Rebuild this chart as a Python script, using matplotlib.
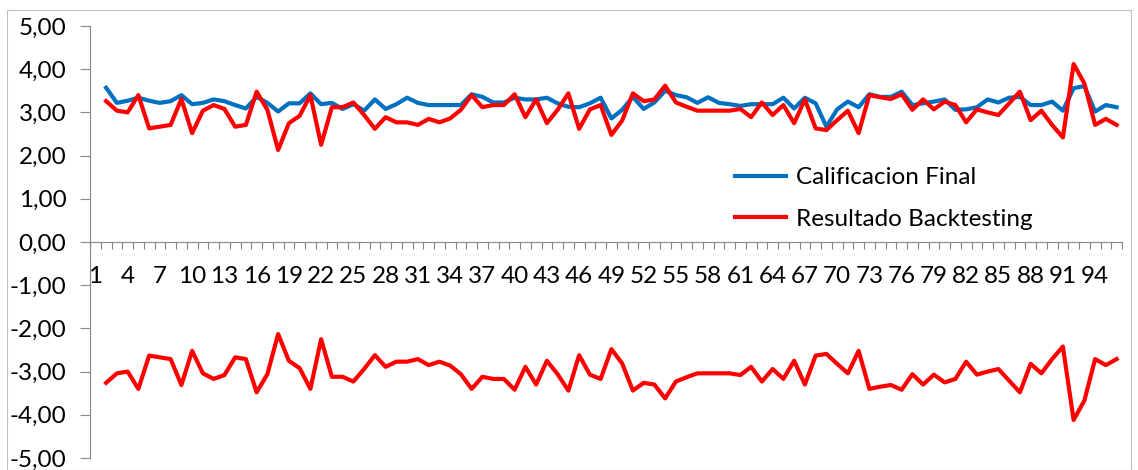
import numpy as np
import matplotlib
matplotlib.use("Agg")
import matplotlib.pyplot as plt
from matplotlib.ticker import FixedLocator, FuncFormatter
from matplotlib.patches import Rectangle

plt.rcParams['font.family'] = ['Lato', 'DejaVu Sans']

# Categories 1..96 (category 1 has no value)
categories = list(range(1, 97))

calificacion_final = [None,
    3.57, 3.22, 3.27, 3.34, 3.27, 3.22, 3.26, 3.40, 3.19, 3.22, 3.30, 3.26, 3.17, 3.09, 3.36, 3.22, 3.02, 3.21, 3.21,
    3.44, 3.19, 3.22, 3.08, 3.19, 3.04, 3.30, 3.08, 3.19, 3.34, 3.22, 3.17, 3.17, 3.17, 3.17, 3.42, 3.36, 3.23, 3.23,
    3.34, 3.30, 3.30, 3.34, 3.21, 3.13, 3.12, 3.21, 3.34, 2.86, 3.06, 3.36, 3.08, 3.23, 3.50, 3.40, 3.35, 3.22, 3.35,
    3.22, 3.19, 3.15, 3.19, 3.19, 3.19, 3.34, 3.09, 3.34, 3.21, 2.67, 3.07, 3.25, 3.12, 3.42, 3.36, 3.36, 3.48, 3.17,
    3.21, 3.25, 3.30, 3.06, 3.07, 3.12, 3.30, 3.23, 3.34, 3.36, 3.17, 3.17, 3.25, 3.04, 3.56, 3.61, 3.02, 3.17, 3.12]

resultado_backtesting = [None,
    3.26, 3.04, 3.00, 3.40, 2.63, 2.67, 2.71, 3.31, 2.52, 3.04, 3.17, 3.08, 2.67, 2.71, 3.48, 3.06, 2.13, 2.75, 2.92,
    3.40, 2.25, 3.12, 3.12, 3.23, 2.94, 2.62, 2.89, 2.77, 2.77, 2.71, 2.85, 2.77, 2.86, 3.06, 3.40, 3.12, 3.17, 3.17,
    3.42, 2.89, 3.30, 2.75, 3.06, 3.44, 2.62, 3.07, 3.17, 2.48, 2.81, 3.44, 3.26, 3.30, 3.62, 3.23, 3.13, 3.04, 3.04,
    3.04, 3.04, 3.08, 2.89, 3.23, 2.94, 3.17, 2.75, 3.30, 2.63, 2.59, 2.82, 3.04, 2.52, 3.40, 3.35, 3.31, 3.42, 3.06,
    3.30, 3.07, 3.25, 3.17, 2.77, 3.07, 3.00, 2.94, 3.21, 3.48, 2.82, 3.04, 2.71, 2.42, 4.12, 3.67, 2.71, 2.85, 2.71]

# mirrored backtesting series (no legend entry)
resultado_negativo = [None if v is None else -v for v in resultado_backtesting]

x_labels = [str(c) for c in categories[::3]]
y_ticks = [5, 4, 3, 2, 1, 0, -1, -2, -3, -4, -5]

def arr(v):
    return np.array([np.nan if a is None else a for a in v], dtype=float)

W, H = 1138, 470
FS = 17.5
fig = plt.figure(figsize=(W / 100, H / 100), dpi=100)
fig.patches.append(Rectangle((7 / W, 0.0), 1124 / W, 1 - 10 / H, transform=fig.transFigure,
                             fill=False, edgecolor='#BFBFBF', linewidth=0.8))

ax = fig.add_axes([90 / W, 1 - 458 / H, (1122 - 90) / W, (458 - 26) / H])
ax.plot(categories, arr(calificacion_final), color='#0070C0', lw=3.0, label='Calificacion Final',
        solid_joinstyle='round')
ax.plot(categories, arr(resultado_backtesting), color='#FF0000', lw=3.0, label='Resultado Backtesting',
        solid_joinstyle='round')
ax.plot(categories, arr(resultado_negativo), color='#FF0000', lw=3.0, label='_nolegend_',
        solid_joinstyle='round')

ax.set_xlim(0.5, len(categories) + 0.5)
ax.set_ylim(-5, 5)

for s in ['top', 'right']:
    ax.spines[s].set_visible(False)
ax.spines['left'].set_color('#868686')
ax.spines['bottom'].set_color('#868686')
ax.spines['bottom'].set_position(('data', 0))

ax.yaxis.set_major_locator(FixedLocator(y_ticks))
ax.yaxis.set_major_formatter(FuncFormatter(lambda v, p: f"{v:.2f}".replace('.', ',')))
ax.tick_params(axis='y', direction='out', length=7, width=0.8, color='#868686',
               labelsize=FS, pad=10, labelcolor='black')

# category boundaries as tick marks, labels at category centres every 3
ax.xaxis.set_major_locator(FixedLocator(np.arange(0.5, len(categories) + 1, 1.0)))
ax.xaxis.set_major_formatter(FuncFormatter(lambda v, p: ''))
ax.xaxis.set_minor_locator(FixedLocator(categories[::3]))
ax.set_xticklabels(x_labels, minor=True)
ax.tick_params(axis='x', which='major', direction='out', length=5, width=0.8, color='#868686')
ax.tick_params(axis='x', which='minor', length=0, labelsize=FS, pad=17)

leg = ax.legend(loc='upper left', bbox_to_anchor=(735 / W, 1 - 167 / H), bbox_transform=fig.transFigure,
                frameon=False, fontsize=FS, handlelength=2.1, handletextpad=0.4, labelspacing=0.85,
                borderpad=0, borderaxespad=0)

fig.savefig('out.png', dpi=100)
